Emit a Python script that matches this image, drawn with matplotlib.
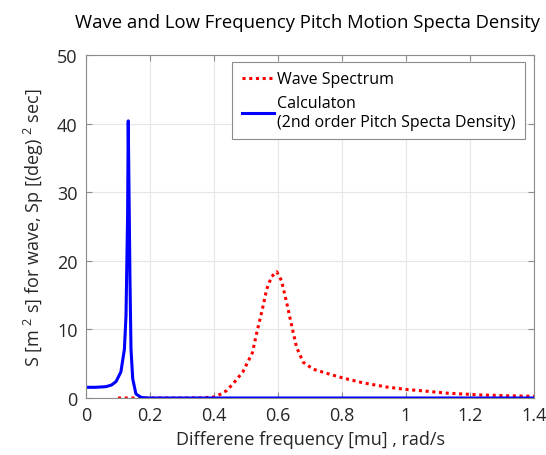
import matplotlib
matplotlib.use("Agg")
import matplotlib.pyplot as plt

plt.rcParams['font.family'] = ['Open Sans', 'DejaVu Sans']
plt.rcParams['mathtext.fontset'] = 'custom'
plt.rcParams['mathtext.rm'] = 'Open Sans'
plt.rcParams['mathtext.it'] = 'Open Sans'

# Wave spectrum (red dotted)
wave_x = [0.10, 0.20, 0.30, 0.36, 0.40, 0.42, 0.44, 0.46, 0.49, 0.52, 0.533, 0.549, 0.565,
          0.580, 0.596, 0.611, 0.627, 0.643, 0.658, 0.679, 0.71, 0.752, 0.804, 0.867,
          0.94, 1.00, 1.05, 1.13, 1.23, 1.32, 1.40]
wave_y = [0.0, 0.0, 0.0, 0.02, 0.15, 0.55, 1.1, 2.1, 3.8, 6.6, 9.4, 12.5, 15.9,
          17.7, 18.4, 17.1, 13.9, 10.5, 7.4, 5.2, 4.2, 3.6, 2.9, 2.2,
          1.6, 1.25, 1.05, 0.7, 0.45, 0.33, 0.25]

# Calculation: 2nd order pitch spectral density (blue solid)
calc_x = [0.0, 0.03, 0.0625, 0.08, 0.094, 0.109, 0.12, 0.125, 0.13, 0.132, 0.1375,
          0.1406, 0.146, 0.156, 0.172, 0.19, 0.3, 0.6, 1.0, 1.4]
calc_y = [1.56, 1.56, 1.65, 1.9, 2.4, 3.8, 7.1, 12.0, 26.6, 40.4, 17.0,
          7.1, 2.8, 0.6, 0.1, 0.0, 0.0, 0.0, 0.0, 0.0]

xticks = [0, 0.2, 0.4, 0.6, 0.8, 1.0, 1.2, 1.4]
xticklabels = ['0', '0.2', '0.4', '0.6', '0.8', '1', '1.2', '1.4']
yticks = [0, 10, 20, 30, 40, 50]

fig = plt.figure(figsize=(5.46, 4.56), dpi=100)
ax = fig.add_axes([86/546, 1-399/456, (534-86)/546, (399-56)/456])

ax.plot(wave_x, wave_y, color='#ff0000', linestyle=(0, (1, 1.2)), linewidth=2.2,
        label='Wave Spectrum')
ax.plot(calc_x, calc_y, color='#0000ff', linestyle='-', linewidth=2.2,
        label='Calculaton\n(2nd order Pitch Specta Density)')

ax.set_xlim(0, 1.4)
ax.set_ylim(0, 50)
ax.set_xticks(xticks)
ax.set_xticklabels(xticklabels)
ax.set_yticks(yticks)
ax.grid(True, color='#e6e6e6', linewidth=0.8)
ax.set_axisbelow(True)
for s in ax.spines.values():
    s.set_color('#8c8c8c')
    s.set_linewidth(0.8)
ax.tick_params(direction='in', top=True, right=True, length=4, color='#8c8c8c',
               labelsize=13, labelcolor='#262626', pad=6)

ax.set_title('Wave and Low Frequency Pitch Motion Specta Density', fontsize=13.3,
             color='#000000', pad=20, x=0.495)
ax.set_xlabel('Differene frequency [mu] , rad/s', fontsize=13, color='#262626', labelpad=4)
ax.set_ylabel(r'S [m $^{2}$ s] for wave, Sp [(deg) $^{2}$ sec]', fontsize=13,
              color='#262626', labelpad=8)

leg = ax.legend(loc='upper right', bbox_to_anchor=(0.98, 0.98), borderaxespad=0,
                fontsize=11.5, handlelength=2.0, handletextpad=0.2, borderpad=0.6,
                labelspacing=0.5, fancybox=False, framealpha=1, edgecolor='#8c8c8c')
leg.get_frame().set_linewidth(0.8)

fig.savefig('out.png', dpi=100)
